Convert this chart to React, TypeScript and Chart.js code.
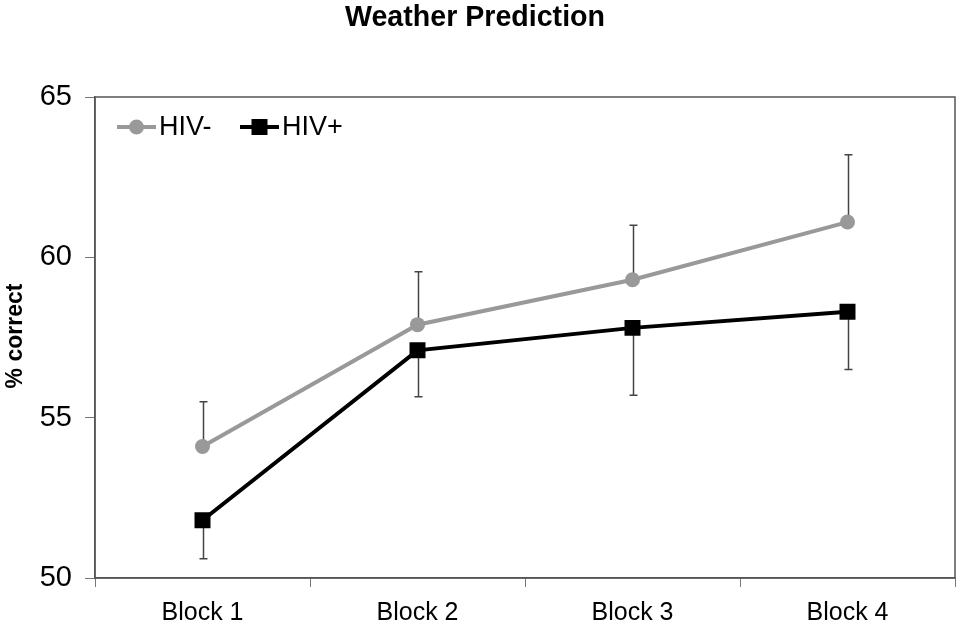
import React, { useEffect, useRef } from "react";
import { Chart, registerables } from "chart.js";

Chart.register(...registerables);

const categories = ["Block 1", "Block 2", "Block 3", "Block 4"];
const hivNeg = [54.1, 57.9, 59.3, 61.1];
const hivNegErrTop = [55.5, 59.55, 61.0, 63.2];
const hivPos = [51.8, 57.1, 57.8, 58.3];
const hivPosErrBottom = [50.6, 55.65, 55.7, 56.5];
const yTicks = [50, 55, 60, 65];

const GRAY = "#999999";
const BLACK = "#000000";
const FONT = "'Liberation Sans', Arial, sans-serif";

const decorPlugin = {
  id: "decor",
  beforeDatasetsDraw(chart: any) {
    const { ctx, scales } = chart;
    const x = scales.x;
    const y = scales.y;
    ctx.save();
    ctx.strokeStyle = "#444444";
    ctx.lineWidth = 1.5;
    const cap = 4;
    const bar = (i: number, v1: number, v2: number) => {
      const px = Math.round(x.getPixelForValue(i)) + 0.5;
      const p1 = y.getPixelForValue(v1);
      const p2 = y.getPixelForValue(v2);
      ctx.beginPath();
      ctx.moveTo(px, p1);
      ctx.lineTo(px, p2);
      ctx.moveTo(px - cap, p2);
      ctx.lineTo(px + cap, p2);
      ctx.stroke();
    };
    categories.forEach((_, i) => {
      bar(i, hivNeg[i], hivNegErrTop[i]);
      bar(i, hivPos[i], hivPosErrBottom[i]);
    });
    ctx.restore();
  },
  afterDraw(chart: any) {
    const { ctx, chartArea } = chart;
    ctx.save();
    // frame
    ctx.strokeStyle = "#555555";
    ctx.lineWidth = 1.5;
    ctx.strokeRect(chartArea.left, chartArea.top, chartArea.right - chartArea.left, chartArea.bottom - chartArea.top);
    // title (condensed bold)
    ctx.fillStyle = "#000";
    ctx.textAlign = "center";
    ctx.textBaseline = "middle";
    ctx.font = "bold 29px " + FONT;
    const tw = ctx.measureText("Weather Prediction").width;
    ctx.save();
    ctx.translate(475, 18);
    ctx.scale(260 / tw, 1);
    ctx.fillText("Weather Prediction", 0, 0);
    ctx.restore();
    // y title
    ctx.save();
    ctx.translate(16, 336);
    ctx.rotate(-Math.PI / 2);
    ctx.font = "bold 23px " + FONT;
    ctx.fillText("% correct", 0, 0);
    ctx.restore();
    // legend
    const ly = 127;
    ctx.lineWidth = 4;
    ctx.strokeStyle = GRAY;
    ctx.beginPath();
    ctx.moveTo(117, ly);
    ctx.lineTo(156, ly);
    ctx.stroke();
    ctx.fillStyle = GRAY;
    ctx.beginPath();
    ctx.arc(136.5, ly, 7.5, 0, Math.PI * 2);
    ctx.fill();
    ctx.strokeStyle = BLACK;
    ctx.beginPath();
    ctx.moveTo(240, ly);
    ctx.lineTo(279, ly);
    ctx.stroke();
    ctx.fillStyle = BLACK;
    ctx.fillRect(251.5, ly - 8, 16, 16);
    ctx.font = "27px " + FONT;
    ctx.textAlign = "left";
    ctx.fillStyle = "#000";
    ctx.fillText("HIV-", 159, ly + 1);
    ctx.fillText("HIV+", 282, ly + 1);
    ctx.restore();
  },
};

export default function App() {
  const ref = useRef<HTMLCanvasElement>(null);
  useEffect(() => {
    if (!ref.current) return;
    const chart = new Chart(ref.current, {
      type: "line",
      data: {
        labels: categories,
        datasets: [
          {
            label: "HIV-",
            data: hivNeg,
            borderColor: GRAY,
            backgroundColor: GRAY,
            borderWidth: 4,
            pointStyle: "circle",
            pointRadius: 7.5,
            pointBorderWidth: 0,
            tension: 0,
          },
          {
            label: "HIV+",
            data: hivPos,
            borderColor: BLACK,
            backgroundColor: BLACK,
            borderWidth: 4,
            pointStyle: "rect",
            pointRadius: 11.3,
            pointBorderWidth: 0,
            tension: 0,
          },
        ],
      },
      options: {
        responsive: false,
        animation: false,
        layout: { autoPadding: false, padding: { top: 97, right: 5, left: 0, bottom: 0 } },
        plugins: { legend: { display: false }, title: { display: false }, tooltip: { enabled: false } },
        scales: {
          x: {
            offset: true,
            grid: {
              display: true,
              offset: true,
              drawOnChartArea: false,
              drawTicks: true,
              tickLength: 9,
              color: "#777777",
              lineWidth: 1,
            },
            border: { display: true, color: "#555555", width: 1.5 },
            ticks: { color: "#000", font: { family: FONT, size: 25 }, padding: 11 },
            afterFit: (s: any) => {
              s.height = 53;
              s.paddingLeft = 0;
              s.paddingRight = 0;
            },
          },
          y: {
            min: 50,
            max: 65,
            afterBuildTicks: (s: any) => {
              s.ticks = yTicks.map((v) => ({ value: v }));
            },
            grid: {
              display: true,
              drawOnChartArea: false,
              drawTicks: true,
              tickLength: 10,
              color: "#777777",
              lineWidth: 1,
            },
            border: { display: true, color: "#555555", width: 1.5 },
            ticks: { color: "#000", font: { family: FONT, size: 29 }, padding: 13 },
            afterFit: (s: any) => {
              s.width = 95;
              s.paddingTop = 0;
              s.paddingBottom = 0;
            },
          },
        },
      },
      plugins: [decorPlugin],
    });
    return () => chart.destroy();
  }, []);
  return (
    <div style={{ position: "fixed", left: 0, top: 0, width: 960, height: 631, background: "#fff" }}>
      <canvas ref={ref} width={960} height={631} style={{ width: 960, height: 631, display: "block" }} />
    </div>
  );
}
